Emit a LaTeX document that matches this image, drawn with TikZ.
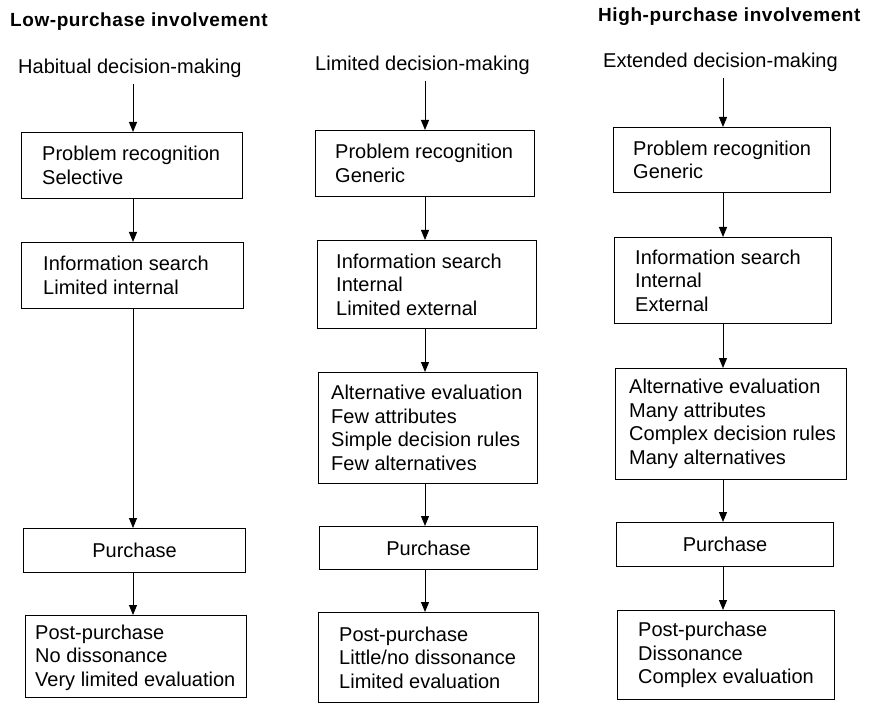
\documentclass[tikz,border=0pt]{standalone}
\usepackage{fontspec}
\setmainfont{Liberation Sans}
\newfontfamily\headfont[LetterSpace=3]{Liberation Sans}
\usetikzlibrary{arrows.meta}
\begin{document}
\begin{tikzpicture}[x=1pt,y=-1pt,
  txt/.style={font=\fontsize{20}{23.5}\selectfont, inner sep=0pt},
  head/.style={font=\headfont\fontsize{19}{22}\selectfont\bfseries, inner sep=0pt, anchor=west},
  box/.style={draw, line width=1.1pt, anchor=north west, inner sep=0pt},
  btxt/.style={font=\fontsize{20}{23.5}\selectfont, inner sep=0pt, align=left, anchor=west},
  ptxt/.style={font=\fontsize{20}{23.5}\selectfont, inner sep=0pt},
  arr/.style={-{Triangle[length=10pt,width=8pt]}, line width=1pt}]
\useasboundingbox[fill=white] (0,0) rectangle (869,703);

% headers
\node[head] (hl) at (10,22) {Low-purchase involvement};
\node[head] (hh) at (598,17) {High-purchase involvement};
\node[txt, anchor=west] (s1) at (18,68) {Habitual decision-making};
\node[txt, anchor=west] (s2) at (315,65) {Limited decision-making};
\node[txt, anchor=west] (s3) at (603,62) {Extended decision-making};

\coordinate (c1) at (133,0);
\coordinate (c2) at (425,0);
\coordinate (c3) at (723,0);

% column 1
\node[box, minimum width=221pt, minimum height=66pt] (a1) at (21,132) {};
\node[btxt] (a1t) at ([xshift=21pt]a1.west) {Problem recognition\\Selective};
\node[box, minimum width=222pt, minimum height=66pt] (a2) at (21,242) {};
\node[btxt] (a2t) at ([xshift=22pt]a2.west) {Information search\\Limited internal};
\node[box, minimum width=222pt, minimum height=44pt] (a4) at (23,528) {};
\node[ptxt] (a4t) at (a4.center) {Purchase};
\node[box, minimum width=221pt, minimum height=82pt] (a5) at (25,615) {};
\node[btxt] (a5t) at ([xshift=10pt,yshift=-1pt]a5.west) {Post-purchase\\No dissonance\\Very limited evaluation};

% column 2
\node[box, minimum width=219pt, minimum height=66pt] (b1) at (315,130) {};
\node[btxt] (b1t) at ([xshift=20pt]b1.west) {Problem recognition\\Generic};
\node[box, minimum width=219pt, minimum height=88pt] (b2) at (317,240) {};
\node[btxt] (b2t) at ([xshift=19pt]b2.west) {Information search\\Internal\\Limited external};
\node[box, minimum width=219pt, minimum height=111pt] (b3) at (318,372) {};
\node[btxt] (b3t) at ([xshift=13pt]b3.west) {Alternative evaluation\\Few attributes\\Simple decision rules\\Few alternatives};
\node[box, minimum width=218pt, minimum height=43pt] (b4) at (319,526) {};
\node[ptxt] (b4t) at (b4.center) {Purchase};
\node[box, minimum width=220pt, minimum height=90pt] (b5) at (318,612) {};
\node[btxt] (b5t) at ([xshift=21pt]b5.west) {Post-purchase\\Little/no dissonance\\Limited evaluation};

% column 3
\node[box, minimum width=217pt, minimum height=65pt] (d1) at (613,127) {};
\node[btxt] (d1t) at ([xshift=20pt]d1.west) {Problem recognition\\Generic};
\node[box, minimum width=217pt, minimum height=86pt] (d2) at (614,237) {};
\node[btxt] (d2t) at ([xshift=21pt]d2.west) {Information search\\Internal\\External};
\node[box, minimum width=231pt, minimum height=111pt] (d3) at (615,368) {};
\node[btxt] (d3t) at ([xshift=14pt]d3.west) {Alternative evaluation\\Many attributes\\Complex decision rules\\Many alternatives};
\node[box, minimum width=217pt, minimum height=44pt] (d4) at (616,522) {};
\node[ptxt] (d4t) at (d4.center) {Purchase};
\node[box, minimum width=217pt, minimum height=89pt] (d5) at (617,610) {};
\node[btxt] (d5t) at ([xshift=21pt]d5.west) {Post-purchase\\Dissonance\\Complex evaluation};

% arrows column 1
\draw[arr] ([yshift=-6pt]s1.south -| c1) -- (a1.north -| c1);
\draw[arr] (a1.south -| c1) -- (a2.north -| c1);
\draw[arr] (a2.south -| c1) -- (a4.north -| c1);
\draw[arr] (a4.south -| c1) -- (a5.north -| c1);
% arrows column 2
\draw[arr] ([yshift=-6pt]s2.south -| c2) -- (b1.north -| c2);
\draw[arr] (b1.south -| c2) -- (b2.north -| c2);
\draw[arr] (b2.south -| c2) -- (b3.north -| c2);
\draw[arr] (b3.south -| c2) -- (b4.north -| c2);
\draw[arr] (b4.south -| c2) -- (b5.north -| c2);
% arrows column 3
\draw[arr] ([yshift=-6pt]s3.south -| c3) -- (d1.north -| c3);
\draw[arr] (d1.south -| c3) -- (d2.north -| c3);
\draw[arr] (d2.south -| c3) -- (d3.north -| c3);
\draw[arr] (d3.south -| c3) -- (d4.north -| c3);
\draw[arr] (d4.south -| c3) -- (d5.north -| c3);
\end{tikzpicture}
\end{document}
